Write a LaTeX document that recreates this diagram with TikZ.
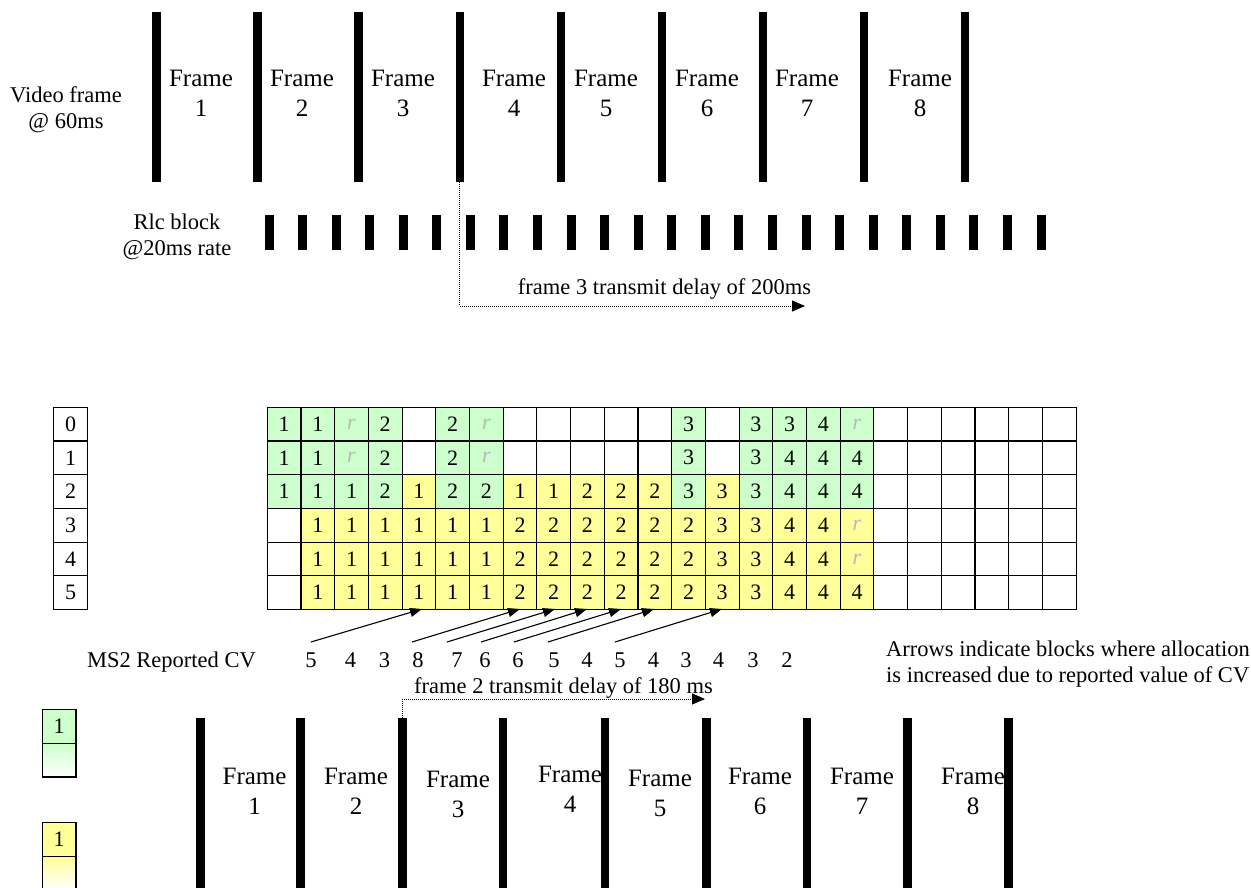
\documentclass[tikz,border=0pt]{standalone}
\usepackage{fontspec}
\setmainfont{Liberation Serif}
\usetikzlibrary{arrows.meta,calc}
\definecolor{G}{HTML}{CCFFCC}
\definecolor{Y}{HTML}{FFFF99}
\definecolor{W}{HTML}{FFFFFF}
\definecolor{rgray}{HTML}{B8B8B8}
\newcommand{\rr}{\textcolor{rgray}{\itshape r}}
\newcommand{\gridrow}[2]{%
  \foreach \cellc/\cellt [count=\k from 0] in {#2}
    \node[cell,fill=\cellc] (c-#1-\k) at ({266.7+33.7*\k},{406.7+33.7*#1}) {\cellt};%
}
\begin{document}
\begin{tikzpicture}[x=1pt,y=-1pt,
  vbar/.style={fill=black,draw=none,inner sep=0pt,minimum width=8.5pt},
  rbar/.style={fill=black,draw=none,inner sep=0pt,minimum width=9pt,minimum height=35pt},
  framelbl/.style={align=center,inner sep=0pt,font=\fontsize{25}{30}\selectfont},
  lbl/.style={inner sep=0pt,font=\fontsize{22.5}{26}\selectfont},
  cell/.style={draw=black,line width=1.1pt,minimum width=33.7pt,minimum height=33.7pt,inner sep=0pt,anchor=north west,font=\fontsize{22}{26}\selectfont},
  dotline/.style={line width=0.9pt,dash pattern=on 1pt off 1pt,-{Triangle[length=13pt,width=11pt]}},
  cvarrow/.style={line width=1.1pt,-{Triangle[length=12pt,width=9pt]}}
]
\fill[white] (0,0) rectangle (1251,888);
\useasboundingbox (0,0) rectangle (1251,888);

% ---------- top: video frames ----------
\node[lbl,align=center] (vf) at (66,110) {Video frame\\@ 60ms};
\foreach \n/\x in {1/201,2/302,3/403,4/514,5/606,6/707,7/807,8/920}
  \node[framelbl] (tf-\n) at (\x,93.75) {Frame\\\n};
\foreach \i in {0,...,8}
  \node[vbar,minimum height=170pt] (tb-\i) at ({156.6+101.05*\i},97) {};

% ---------- RLC blocks ----------
\node[lbl,align=center] (rlc) at (177,237) {Rlc block\\@20ms rate};
\foreach \i in {0,...,23}
  \node[rbar] (rb-\i) at ({269+33.57*\i},232.5) {};

\node[lbl,anchor=base] (t200) at (664.5,294) {frame 3 transmit delay of 200ms};
\coordinate (d1) at (805,306);
\draw[dotline] (tb-3.south) |- (d1);

% ---------- grid ----------
\foreach \r in {0,...,5}
  \node[cell] (L-\r) at (53.3,{406.7+33.7*\r}) {\r};

\gridrow{0}{G/1,G/1,G/\rr,G/2,W/,G/2,G/\rr,W/,W/,W/,W/,W/,G/3,W/,G/3,G/3,G/4,G/\rr,W/,W/,W/,W/,W/,W/}
\gridrow{1}{G/1,G/1,G/\rr,G/2,W/,G/2,G/\rr,W/,W/,W/,W/,W/,G/3,W/,G/3,G/4,G/4,G/4,W/,W/,W/,W/,W/,W/}
\gridrow{2}{G/1,G/1,G/1,G/2,Y/1,G/2,G/2,Y/1,Y/1,Y/2,Y/2,Y/2,G/3,Y/3,G/3,G/4,G/4,G/4,W/,W/,W/,W/,W/,W/}
\gridrow{3}{W/,Y/1,Y/1,Y/1,Y/1,Y/1,Y/1,Y/2,Y/2,Y/2,Y/2,Y/2,Y/2,Y/3,Y/3,Y/4,Y/4,Y/\rr,W/,W/,W/,W/,W/,W/}
\gridrow{4}{W/,Y/1,Y/1,Y/1,Y/1,Y/1,Y/1,Y/2,Y/2,Y/2,Y/2,Y/2,Y/2,Y/3,Y/3,Y/4,Y/4,Y/\rr,W/,W/,W/,W/,W/,W/}
\gridrow{5}{W/,Y/1,Y/1,Y/1,Y/1,Y/1,Y/1,Y/2,Y/2,Y/2,Y/2,Y/2,Y/2,Y/3,Y/3,Y/4,Y/4,Y/4,W/,W/,W/,W/,W/,W/}

% ---------- CV arrows ----------
\foreach \j/\tx/\hx in {1/311/422,2/412/520,3/447/555,4/481/587,5/514/621,6/548/654,7/615/722}{
  \coordinate (at-\j) at (\tx,642);
  \coordinate (ah-\j) at (\hx,609);
  \draw[cvarrow] (at-\j) -- (ah-\j);
}
\node[lbl,anchor=base east] (ms2) at (256,667) {MS2 Reported CV};
\foreach \v/\x [count=\j] in {5/311,4/350.5,3/384.5,8/418,7/457,6/485,6/518,5/554,4/587,5/620,4/653.5,3/686,4/718.6,3/753,2/787}
  \node[lbl,anchor=base] (cv-\j) at (\x,667) {\v};

\node[lbl,align=left,anchor=west] (note) at (886,664) {Arrows indicate blocks where allocation\\is increased due to reported value of CV};

% ---------- bottom frames ----------
\node[lbl,anchor=base] (t180) at (563.5,693) {frame 2 transmit delay of 180 ms};
\foreach \n/\x/\y in {1/254.6/791,2/356/791,3/458/794,4/570/789,5/660/793,6/760/791,7/862/791,8/973/791}
  \node[framelbl] (bf-\n) at (\x,\y) {Frame\\\n};
\foreach \x [count=\i from 0] in {200.3,300.5,402.3,502.8,604.8,706.5,806.9,907.5,1008.5}
  \node[vbar,minimum height=182pt] (bb-\i) at (\x,809) {};
\coordinate (d2) at (705,699);
\draw[dotline] (bb-2.north) |- (d2);

% ---------- legend ----------
\node[cell,fill=G] (lg1) at (41.7,709) {1};
\node[cell,top color=G,bottom color=white] (lg2) at (41.7,742.7) {};
\node[cell,fill=Y] (ly1) at (41.7,822) {1};
\node[cell,top color=Y,bottom color=white] (ly2) at (41.7,855.7) {};
\end{tikzpicture}
\end{document}
